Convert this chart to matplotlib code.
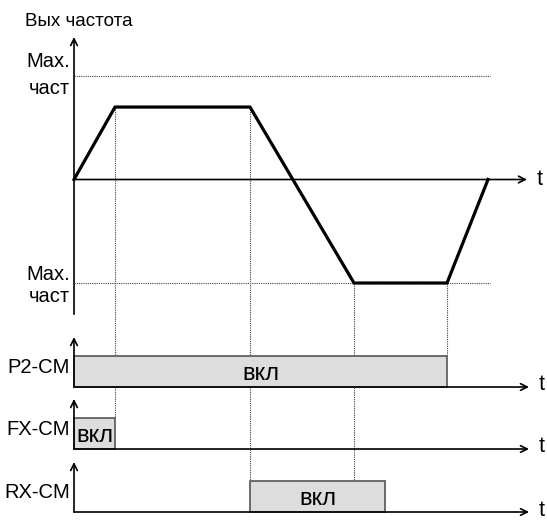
import matplotlib.pyplot as plt

# 时间点 (1 单位 = 10 px) 和输出频率 (相对最大频率)
t_pts = [0, 4.1, 17.6, 28.0, 37.3, 41.4]
f_pts = [0, 0.70, 0.70, -1.0, -1.0, 0]
f_max = 1.0

# 端子信号
sig_names = ['P2-CM', 'FX-CM', 'RX-CM']
sig_on = [0, 0, 17.6]
sig_off = [37.3, 4.1, 31.1]
sig_text = ['вкл', 'вкл', 'вкл']

# 虚线: 时间点索引, 结束于哪个信号条的顶部
guide_idx = [1, 2, 3, 4]
guide_row = [1, 2, 2, 0]

# 版面 (纵向像素单位)
FY0 = 179.5
FAMP = 103.5
SIG_BASE = [387, 449, 512]
SIG_H = 31
T_END = 45.3

font = ['Liberation Sans', 'DejaVu Sans']
FS = 14.5


def fy(f):
    return FY0 - f * FAMP


fig = plt.figure(figsize=(5.47, 5.20), dpi=100)
ax = fig.add_axes([0, 0, 1, 1])
ax.set_xlim(-7.4, 47.3)
ax.set_ylim(520, 0)
ax.axis('off')

arrow = dict(arrowstyle='->', color='black', lw=1.2, shrinkA=0, shrinkB=0,
             mutation_scale=12)

# 频率坐标轴
ax.plot([0, 0], [fy(-1.3), fy(0)], color='black', lw=1.2)
ax.annotate('', xy=(0, 37), xytext=(0, fy(0)), arrowprops=arrow)
ax.annotate('', xy=(T_END, fy(0)), xytext=(0, fy(0)), arrowprops=arrow)
ax.text(46.6, fy(0), 't', family=font, fontsize=FS + 1, ha='center',
        va='center')

# 最大频率虚线
for s in [1, -1]:
    ax.plot([0, 41.6], [fy(s * f_max)] * 2, color='#444444', lw=0.8,
            linestyle=(0, (1, 1)))

# 垂直虚线
for i, r in zip(guide_idx, guide_row):
    ax.plot([t_pts[i], t_pts[i]], [fy(f_pts[i]), SIG_BASE[r] - SIG_H],
            color='#444444', lw=0.8, linestyle=(0, (1, 1)), zorder=1)

# 频率曲线
ax.plot(t_pts, [fy(f) for f in f_pts], color='black', lw=2.3,
        solid_joinstyle='miter', zorder=3)

# 文字
ax.text(-4.9, 26, 'Вых частота', family=font, fontsize=13.5, ha='left',
        va='baseline')
for yb1, yb2 in [(67, 94), (280, 302)]:
    ax.text(-0.4, yb1, 'Max.', family=font, fontsize=FS, ha='right',
            va='baseline')
    ax.text(-0.4, yb2, 'част', family=font, fontsize=FS, ha='right',
            va='baseline')

# 信号
for name, on, off, txt, base in zip(sig_names, sig_on, sig_off, sig_text,
                                    SIG_BASE):
    ax.bar(on, -SIG_H, width=off - on, bottom=base, align='edge',
           color='#dddddd', edgecolor='#555555', lw=1.2, zorder=2)
    ax.annotate('', xy=(0, base - 50), xytext=(0, base), arrowprops=arrow)
    ax.annotate('', xy=(T_END + 0.2, base), xytext=(0, base),
                arrowprops=arrow, zorder=4)
    ax.text(46.8, base - 2, 't', family=font, fontsize=FS + 1, ha='center',
            va='center')
    ax.text(-0.4, base - 14, name, family=font, fontsize=FS, ha='right',
            va='baseline')
    ax.text((on + off) / 2, base - 7, txt, family=font, fontsize=17,
            ha='center', va='baseline', zorder=5)

fig.savefig('out.png', dpi=100)
